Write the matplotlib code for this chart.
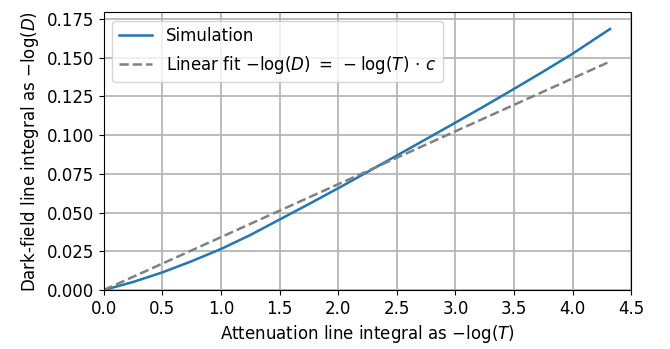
import numpy as np
import matplotlib.pyplot as plt

plt.rcParams['font.size'] = 12
plt.rcParams['mathtext.fontset'] = 'dejavusans'

# simulated curve
att = [0.0, 0.25, 0.5, 0.75, 1.0, 1.25, 1.5, 1.75, 2.0, 2.25, 2.5, 2.75,
       3.0, 3.25, 3.5, 3.75, 4.0, 4.32]
dark = [0.0, 0.0052, 0.0114, 0.0186, 0.0265, 0.0355, 0.0455, 0.0555, 0.0657,
        0.0762, 0.0868, 0.0974, 0.1080, 0.1188, 0.1298, 0.1410, 0.1525, 0.1685]

# linear fit endpoints
fit_x = [0.0, 4.32]
fit_y = [0.0, 0.1475]

fig = plt.figure(figsize=(6.7, 3.49), dpi=100)
ax = fig.add_axes([0.155, 0.169, 0.787, 0.796])

ax.plot(att, dark, color='tab:blue', lw=1.8, label='Simulation')
ax.plot(fit_x, fit_y, '--', color='gray', lw=1.8,
        label=r'Linear fit $-\log(D)\;=\;-\log(T)\,\cdot\,c$')

ax.set_xlim(0, 4.5)
ax.set_ylim(0, 0.1793)
ax.set_yticks(np.arange(0, 0.176, 0.025))
ax.grid(True, color='#b0b0b0', lw=1.2)
ax.set_xlabel(r'Attenuation line integral as $-\log(T)$')
ax.set_ylabel(r'Dark-field line integral as $-\log(D)$')
ax.legend(loc='upper left')

plt.savefig('out.png', dpi=100)
